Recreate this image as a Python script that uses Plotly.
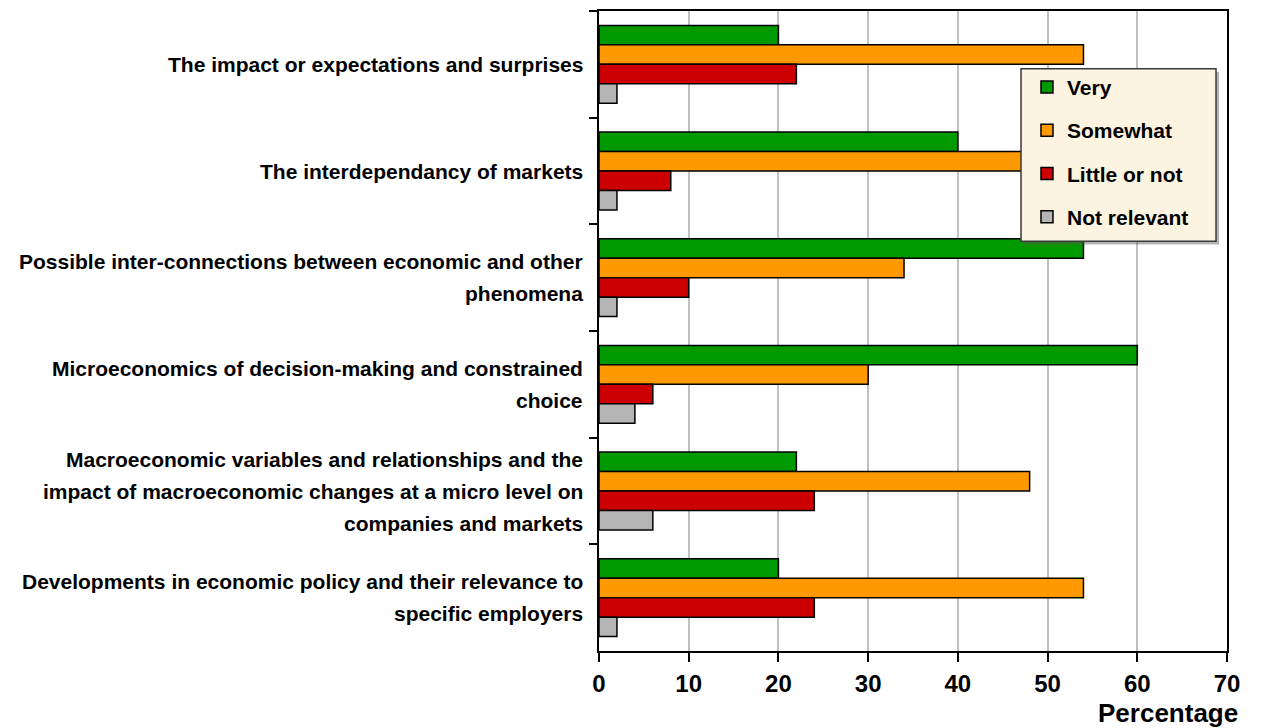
import plotly.graph_objects as go

# Survey topics (top to bottom); "<br>" marks the line breaks of each label
topics = [
    "The impact or expectations and surprises",
    "The interdependancy of markets",
    "Possible inter-connections between economic and other<br>phenomena",
    "Microeconomics of decision-making and constrained<br>choice",
    "Macroeconomic variables and relationships and the<br>impact of macroeconomic changes at a micro level on<br>companies and markets",
    "Developments in economic policy and their relevance to<br>specific employers",
]

# Percentage of respondents per rating
very = [20, 40, 54, 60, 22, 20]
somewhat = [54, 50, 34, 30, 48, 54]
little_or_not = [22, 8, 10, 6, 24, 24]
not_relevant = [2, 2, 2, 4, 6, 2]

series_names = ["Very", "Somewhat", "Little or not", "Not relevant"]
series_values = [very, somewhat, little_or_not, not_relevant]
series_colors = ["#009900", "#FF9900", "#CC0000", "#B4B4B4"]

x_ticks = [0, 10, 20, 30, 40, 50, 60, 70]

FONT = "Liberation Sans, Arial, sans-serif"

fig = go.Figure()
for name, vals, color in zip(series_names, series_values, series_colors):
    fig.add_trace(go.Bar(
        y=topics, x=vals, name=name, orientation="h",
        legendgroup=name,
        marker=dict(color=color, line=dict(color="#000000", width=1.5)),
    ))

# Category labels: one annotation per line so lines stay centred on each other
LINE_STEP = 32
annotations = []
for topic in topics:
    lines = topic.split("<br>")
    n = len(lines)
    for i, line in enumerate(lines):
        annotations.append(dict(
            xref="paper", yref="y", x=0, y=topic,
            xanchor="right", yanchor="middle", xshift=-14,
            yshift=((n - 1) / 2 - i) * LINE_STEP,
            text=line, showarrow=False,
            font=dict(family=FONT, size=21, color="#000000", weight="bold"),
        ))

# Axis title at the lower right
annotations.append(dict(
    xref="paper", yref="paper", x=0.906, y=-0.0974,
    xanchor="center", yanchor="middle",
    text="Percentage", showarrow=False,
    font=dict(family=FONT, size=26, color="#000000", weight="bold"),
))

# Legend panel: drop shadow plus cream box, drawn behind the legend entries
LEG_X0, LEG_X1, LEG_Y0, LEG_Y1 = 0.672, 0.9825, 0.6402, 0.9097
shapes = [
    dict(type="rect", xref="paper", yref="paper", layer="above",
         x0=LEG_X0 + 0.005, x1=LEG_X1 + 0.005, y0=LEG_Y0 - 0.005, y1=LEG_Y1 - 0.005,
         fillcolor="rgba(90,90,90,0.45)", line=dict(width=0)),
    dict(type="rect", xref="paper", yref="paper", layer="above",
         x0=LEG_X0, x1=LEG_X1, y0=LEG_Y0, y1=LEG_Y1,
         fillcolor="#FCF3E0", line=dict(color="#3A3A3A", width=1.5)),
]

fig.update_layout(
    width=1268, height=728,
    margin=dict(l=599, r=41, t=9, b=77),
    paper_bgcolor="#FFFFFF", plot_bgcolor="#FFFFFF",
    barmode="group", bargap=0.27, bargroupgap=0,
    showlegend=True,
    legend=dict(
        x=0.6815, y=0.9128, xanchor="left", yanchor="top",
        bgcolor="rgba(0,0,0,0)", borderwidth=0,
        traceorder="grouped", tracegroupgap=13,
        font=dict(family=FONT, size=21, color="#000000", weight="bold"),
    ),
    annotations=annotations,
    shapes=shapes,
    xaxis=dict(
        range=[0, 70], tickvals=x_ticks, ticktext=[str(v) for v in x_ticks],
        ticks="outside", ticklen=9, tickwidth=2, tickcolor="#000000",
        ticklabelstandoff=1,
        showgrid=True, gridcolor="#C0C0C0", gridwidth=1.5,
        showline=True, linecolor="#000000", linewidth=2, mirror=True,
        zeroline=False,
        tickfont=dict(family=FONT, size=24, color="#000000", weight="bold"),
    ),
    yaxis=dict(
        type="category", categoryorder="array", categoryarray=topics,
        autorange="reversed",
        tickson="boundaries", ticks="outside", ticklen=8, tickwidth=2,
        tickcolor="#000000", showticklabels=False, showgrid=False,
        showline=True, linecolor="#000000", linewidth=2, mirror=True,
        zeroline=False,
    ),
)

fig.write_html("out.html")
